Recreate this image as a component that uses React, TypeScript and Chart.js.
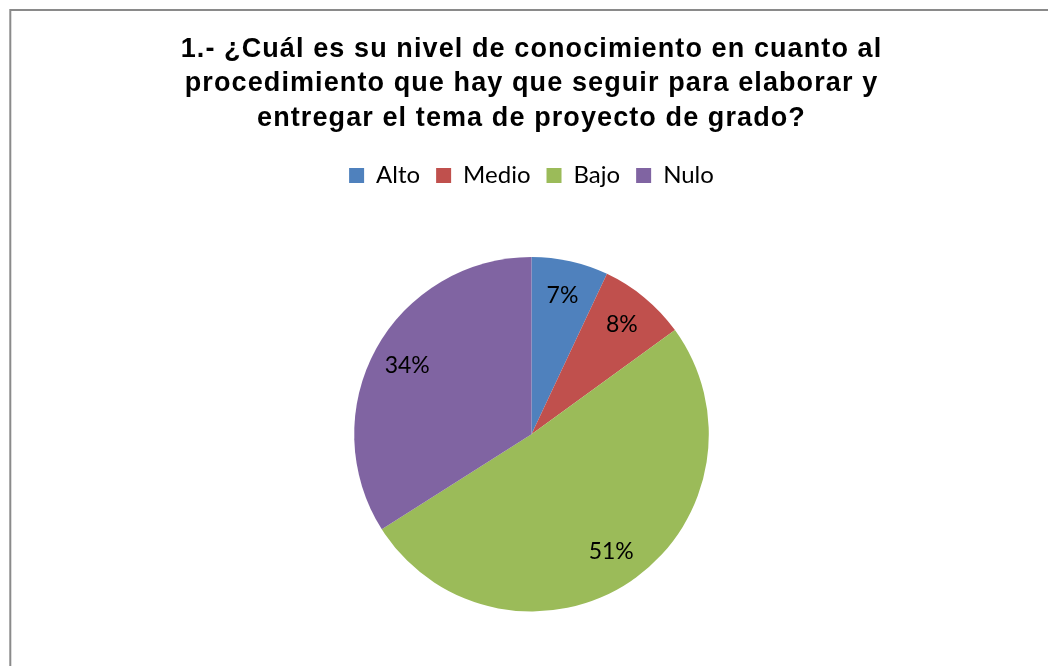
import React, { useEffect, useRef } from "react";
import { Chart, registerables } from "chart.js";

Chart.register(...registerables);

const categories = ["Alto", "Medio", "Bajo", "Nulo"];
const percentages = [7, 8, 51, 34];
const sliceColors = ["#4F81BD", "#C0504D", "#9BBB59", "#8064A2"];
const titleLines = [
  "1.- ¿Cuál es su nivel de conocimiento en cuanto al",
  "procedimiento que hay que seguir para elaborar y",
  "entregar el tema de proyecto de grado?",
];

const framePlugin = {
  id: "frame",
  beforeDraw(chart: any) {
    const ctx = chart.ctx;
    ctx.save();
    ctx.fillStyle = "#ffffff";
    ctx.fillRect(0, 0, chart.width, chart.height);
    ctx.strokeStyle = "#8a8a8a";
    ctx.lineWidth = 2;
    ctx.beginPath();
    ctx.moveTo(10.3, chart.height + 5);
    ctx.lineTo(10.3, 10);
    ctx.lineTo(chart.width + 5, 10);
    ctx.stroke();
    ctx.restore();
  },
};

// widen the title glyph spacing slightly (reference title is horizontally stretched)
const titleSpacingPlugin = {
  id: "titleSpacing",
  afterInit(chart: any) {
    const block = chart.titleBlock;
    if (!block || block.__patched) return;
    const orig = block.draw.bind(block);
    block.draw = function () {
      const ctx = chart.ctx;
      ctx.save();
      (ctx as any).letterSpacing = "1.1px";
      orig();
      ctx.restore();
    };
    block.__patched = true;
  },
};

const labelPlugin = {
  id: "sliceLabels",
  afterDatasetsDraw(chart: any) {
    const ctx = chart.ctx;
    const meta = chart.getDatasetMeta(0);
    ctx.save();
    ctx.font = "23px Lato";
    ctx.fillStyle = "#000000";
    ctx.textAlign = "center";
    ctx.textBaseline = "middle";
    meta.data.forEach((arc: any, i: number) => {
      const { x, y, startAngle, endAngle, outerRadius } = arc.getProps(
        ["x", "y", "startAngle", "endAngle", "outerRadius"],
        true
      );
      const mid = (startAngle + endAngle) / 2;
      const r = outerRadius * 0.8;
      ctx.fillText(`${percentages[i]}%`, x + Math.cos(mid) * r, y + Math.sin(mid) * r);
    });
    ctx.restore();
  },
};

export default function App() {
  const canvasRef = useRef<HTMLCanvasElement | null>(null);

  useEffect(() => {
    document.body.style.margin = "0";
    const canvas = canvasRef.current;
    if (!canvas) return;
    const chart = new Chart(canvas, {
      type: "pie",
      data: {
        labels: categories,
        datasets: [
          {
            data: percentages,
            backgroundColor: sliceColors,
            borderWidth: 0,
            radius: 177.3,
          },
        ],
      },
      options: {
        responsive: false,
        animation: false,
        layout: { padding: { left: 15, right: 0, top: 0, bottom: 9 } },
        plugins: {
          title: {
            display: true,
            text: titleLines,
            color: "#000000",
            font: { family: "'Liberation Sans', Arial, sans-serif", size: 27, weight: "bold", lineHeight: "34.5px" },
            padding: { top: 32, bottom: 12 },
          },
          legend: {
            display: true,
            position: "top",
            labels: {
              color: "#000000",
              font: { family: "Lato", size: 24 },
              boxWidth: 15,
              boxHeight: 15,
              padding: 16,
            },
          },
          tooltip: { enabled: false },
        },
      },
      plugins: [framePlugin, titleSpacingPlugin, labelPlugin],
    });
    chart.draw();
    return () => chart.destroy();
  }, []);

  return (
    <div style={{ width: 1048, height: 666, position: "relative", overflow: "hidden" }}>
      <canvas ref={canvasRef} width={1048} height={680} style={{ display: "block" }} />
    </div>
  );
}
